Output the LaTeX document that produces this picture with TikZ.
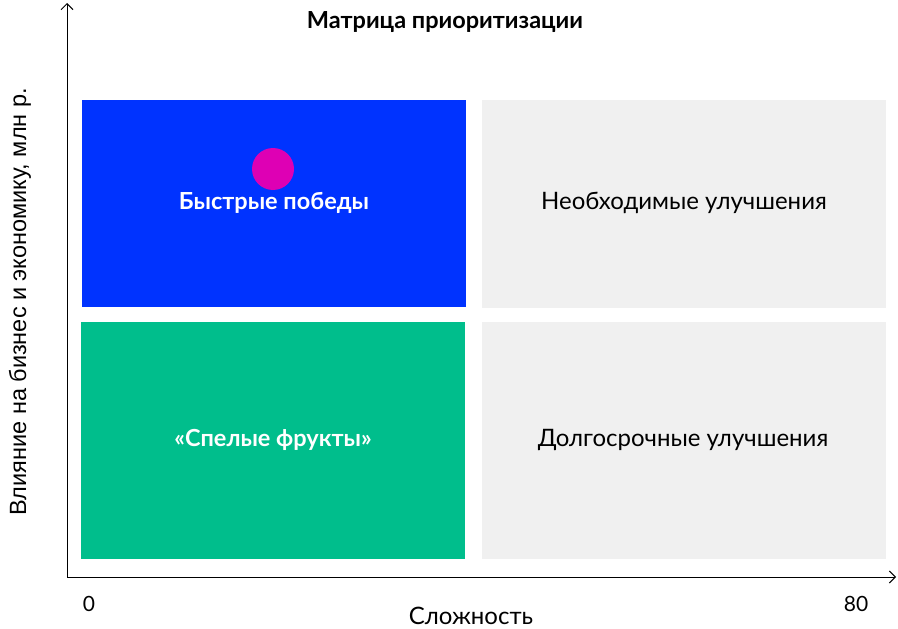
\documentclass[tikz,border=0pt]{standalone}
\usepackage{fontspec}
\setmainfont{Lato}
\newfontfamily\arialf{Liberation Sans}
\usetikzlibrary{arrows.meta}
\definecolor{qblue}{HTML}{0033FF}
\definecolor{qgreen}{HTML}{00BE8C}
\definecolor{qgrey}{HTML}{F0F0F0}
\definecolor{qmag}{HTML}{DE00B4}
\begin{document}
\begin{tikzpicture}[x=1pt,y=-1pt,
  quad/.style={draw=none,anchor=north west,inner sep=0pt,outer sep=0pt},
  lbl/.style={font=\fontsize{24}{28}\selectfont},
  blbl/.style={font=\fontsize{23.5}{28}\selectfont\bfseries},
  axis/.style={line width=1pt,-{Straight Barb[length=6pt,width=12pt,line width=1pt]}}]
\useasboundingbox[fill=white] (0,0) rectangle (898,629);
\node[quad,fill=qblue,minimum width=384pt,minimum height=207pt] (q1) at (82,100) {};
\node[quad,fill=qgrey,minimum width=404pt,minimum height=208pt] (q2) at (482,100) {};
\node[quad,fill=qgreen,minimum width=384pt,minimum height=237pt] (q3) at (81,322) {};
\node[quad,fill=qgrey,minimum width=404pt,minimum height=237pt] (q4) at (482,322) {};
\coordinate (o) at (67,577);
\coordinate (ytop) at (67,3);
\coordinate (xend) at (896,577);
\draw[axis] (o) -- (ytop);
\draw[axis] (o) -- (xend);
\node[circle,fill=qmag,minimum size=42pt,inner sep=0pt] (dot) at (273,169) {};
\node[blbl,text=white] (t1) at (274,203) {Быстрые победы};
\node[lbl] (t2) at (684,203) {Необходимые улучшения};
\node[blbl,text=white] (t3) at (273,440) {«Спелые фрукты»};
\node[lbl] (t4) at (683,440) {Долгосрочные улучшения};
\node[blbl] (title) at (445,22) {Матрица приоритизации};
\node[font=\fontsize{21}{24}\selectfont] (zero) at (89,604) {0};
\node[font=\fontsize{21}{24}\selectfont] (eighty) at (856,604) {80};
\node[lbl,inner sep=1pt] (xl) at (471,616) {Сложность};
\node[font=\arialf\fontsize{23.5}{28}\selectfont,rotate=90] (yl) at (20,302) {Влияние на бизнес и экономику, млн р.};
\end{tikzpicture}
\end{document}
